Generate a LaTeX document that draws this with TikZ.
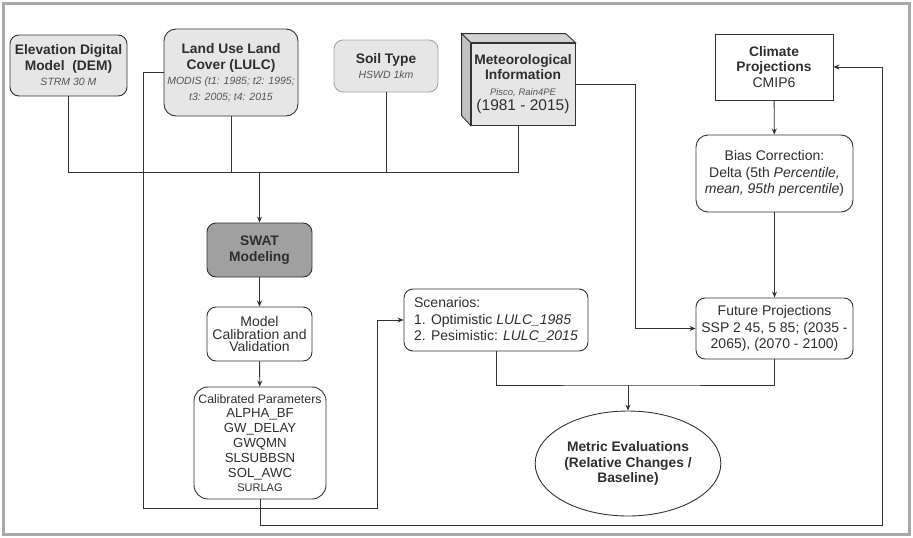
\documentclass[tikz,border=0pt]{standalone}
\usepackage{fontspec}
\setmainfont{Liberation Sans}
\usetikzlibrary{arrows.meta,shapes.geometric}

\definecolor{linegray}{HTML}{333333}
\definecolor{boxgray}{HTML}{E6E6E6}
\definecolor{topgray}{HTML}{D2D2D2}
\definecolor{sidegray}{HTML}{C2C2C2}
\definecolor{swatgray}{HTML}{A0A0A0}
\definecolor{notegray}{HTML}{555555}
\definecolor{framegray}{HTML}{A8A8A8}

\newcommand{\titlefont}{\fontsize{13.8}{15.5}\selectfont}
\newcommand{\plainfont}{\fontsize{14}{16.5}\selectfont}
\newcommand{\notefont}{\fontsize{10.5}{15}\selectfont\itshape\color{notegray}}
\newcommand{\parfont}{\fontsize{13.2}{14.8}\selectfont}

\tikzset{
  box/.style={draw=linegray, line width=0.9pt, rounded corners=9pt, align=center,
    inner sep=2pt, text=black!82, font=\titlefont},
  datbox/.style={box, fill=boxgray},
  flow/.style={draw=linegray, line width=0.9pt},
  >={Stealth[length=6pt,width=5pt]}
}

\begin{document}
\begin{tikzpicture}[x=1pt,y=-1pt]
      \useasboundingbox (0,0) rectangle (913,538);
      \draw[framegray, line width=3.5pt] (3.5,3.5) rectangle (909.5,534.5);

      % input data
      \node[datbox, minimum width=117pt, minimum height=61pt] (dem) at (68.5,65.5)
        {\textbf{Elevation Digital}\\\textbf{Model\ \ (DEM)}\\{\notefont STRM 30 M}};
      \node[datbox, minimum width=134pt, minimum height=87pt, rounded corners=12pt] (lulc) at (231,72.5)
        {\textbf{Land Use Land}\\\textbf{Cover (LULC)}\\{\notefont MODIS (t1: 1985; t2: 1995;}\\{\notefont t3: 2005; t4: 2015}};
      \node[datbox, draw=gray!70, minimum width=104pt, minimum height=52pt] (soil) at (386,66)
        {\textbf{Soil Type}\\{\notefont HSWD 1km}};
      \node[datbox, rounded corners=0pt, minimum width=104pt, minimum height=82pt] (meteo) at (523,84)
        {\textbf{Meteorological}\\\textbf{Information}\\{\notefont\fontsize{9.5}{12}\selectfont Pisco, Rain4PE}\\{\fontsize{15.5}{17}\selectfont (1981 - 2015)}};
      \filldraw[fill=topgray, draw=linegray, line width=0.9pt]
        (meteo.north west) -- ++(-9,-9) -- ++(104,0) -- (meteo.north east) -- cycle;
      \filldraw[fill=sidegray, draw=linegray, line width=0.9pt]
        (meteo.north west) -- ++(-9,-9) -- ++(0,82) -- (meteo.south west) -- cycle;

      % climate branch
      \node[box, rounded corners=0pt, minimum width=118pt, minimum height=66pt] (climate) at (774,67)
        {\textbf{Climate}\\\textbf{Projections}\\{\plainfont CMIP6}};
      \node[box, font=\plainfont, minimum width=157pt, minimum height=77pt, rounded corners=12pt] (bias) at (774.5,173.5)
        {Bias Correction:\\Delta (5th \textit{Percentile,}\\\textit{mean, 95th percentile})};
      \node[box, font=\plainfont, minimum width=157pt, minimum height=61pt] (future) at (774.5,328.5)
        {Future Projections\\SSP 2 45, 5 85; (2035 -\\2065), (2070 - 2100)};

      % model chain
      \node[box, fill=swatgray, minimum width=105pt, minimum height=54pt] (swat) at (259.5,250)
        {\textbf{SWAT}\\\textbf{Modeling}};
      \node[box, font=\fontsize{14}{12.5}\selectfont, minimum width=105pt, minimum height=54pt] (calib) at (259.5,334)
        {Model\\Calibration and\\Validation};
      \node[box, font=\parfont, minimum width=132pt, minimum height=112pt, rounded corners=14pt] (params) at (260,443)
        {{\fontsize{12.3}{14}\selectfont Calibrated Parameters}\\ALPHA\_BF\\GW\_DELAY\\GWQMN\\SLSUBBSN\\SOL\_AWC\\{\fontsize{11}{13}\selectfont SURLAG}};
      \node[box, font=\plainfont, align=left, minimum width=184pt, minimum height=62pt] (scen) at (496,320)
        {Scenarios:\\1. Optimistic \textit{LULC\_1985}\\2. Pesimistic: \textit{LULC\_2015}};
      \node[box, ellipse, rounded corners=0pt, minimum width=168pt, minimum height=105pt] (metric) at (628,463.5)
        {\textbf{Metric Evaluations}\\\textbf{(Relative Changes /}\\\textbf{Baseline)}};

      \coordinate (join) at (259.5,172);
      \coordinate (merge) at (628,385);

      \draw[flow] (dem.south) |- (join);
      \draw[flow] (lulc.south) |- (join);
      \draw[flow] (soil.south) |- (join);
      \draw[flow] (meteo.south) ++(-4.5,0) |- (join);
      \draw[flow, ->] (join) -- (swat);
      \draw[flow, ->] (swat) -- (calib);
      \draw[flow, ->] (calib) -- (params);

      \draw[flow, ->] (lulc.west) -| (143,508) -| (377,320) -- (scen.west);
      \draw[flow, ->] (params.south) |- (882,525) |- (climate.east);
      \draw[flow, ->] (meteo.east) -| (635,328.5) -- (future.west);
      \draw[flow, ->] (climate) -- (bias);
      \draw[flow, ->] (bias) -- (future);

      \draw[flow] (scen.south) |- (merge) -| (future.south);
      \draw[flow, ->] (merge) -- (metric);
    \end{tikzpicture}
\end{document}
